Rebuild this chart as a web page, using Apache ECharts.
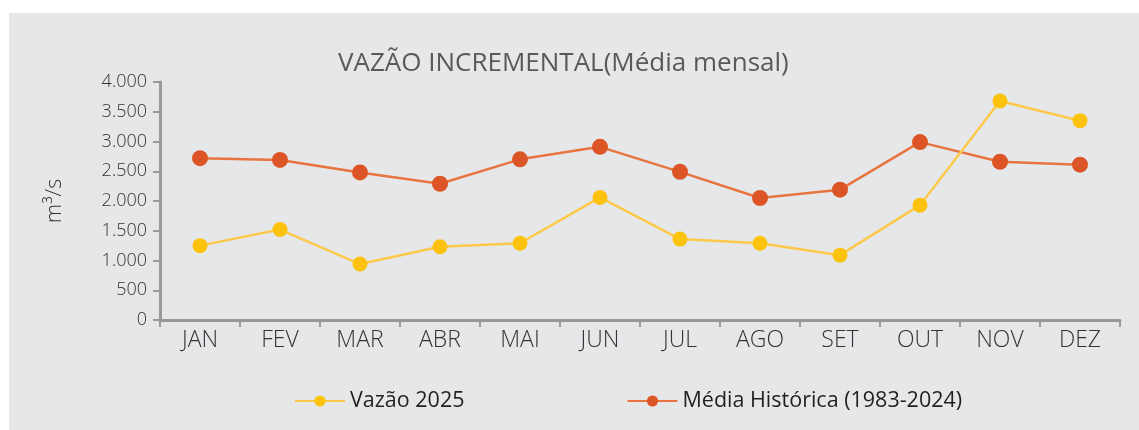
<!DOCTYPE html>
<html>
<head>
<meta charset="utf-8">
<script src="https://cdn.jsdelivr.net/npm/echarts@6/dist/echarts.min.js"></script>
<style>
html,body{margin:0;padding:0;background:#fff;}
#chart{width:1139px;height:430px;}
</style>
</head>
<body>
<div id="chart"></div>
<script>
var categories = ['JAN','FEV','MAR','ABR','MAI','JUN','JUL','AGO','SET','OUT','NOV','DEZ'];
var vazao2025 = [1250, 1520, 940, 1230, 1290, 2060, 1360, 1290, 1090, 1930, 3680, 3350];
var mediaHistorica = [2720, 2690, 2480, 2290, 2700, 2910, 2490, 2050, 2190, 2990, 2660, 2610];
var yTickLabels = ['0','500','1.000','1.500','2.000','2.500','3.000','3.500','4.000'];
var seriesNames = ['Vazão 2025','Média Histórica (1983-2024)'];
var titleText = 'VAZÃO INCREMENTAL(Média mensal)';
var yAxisName = 'm³/s';

var FONT = '"Open Sans", sans-serif';
var chart = echarts.init(document.getElementById('chart'));
chart.setOption({
  backgroundColor: '#ffffff',
  animation: false,
  graphic: [{
    type: 'rect', z: -10, silent: true,
    shape: {x: 9, y: 13, width: 1130, height: 417},
    style: {fill: '#e6e7e9'}
  }],
  title: {
    text: titleText,
    left: 333, top: 46,
    textStyle: {fontFamily: FONT, fontSize: 26, fontWeight: 'normal', color: '#58595b'}
  },
  legend: {
    left: 289, top: 385,
    itemWidth: 50, itemHeight: 14, itemGap: 162,
    textStyle: {fontFamily: FONT, fontSize: 21.5, color: '#231f20'},
    data: seriesNames
  },
  grid: {left: 160, right: 19, top: 82, bottom: 110},
  xAxis: {
    type: 'category',
    data: categories,
    boundaryGap: true,
    axisLine: {lineStyle: {color: '#98999b', width: 3}},
    axisTick: {show: true, length: 7, lineStyle: {color: '#98999b', width: 2}},
    axisLabel: {fontFamily: FONT, fontSize: 23, fontWeight: 300, color: '#333335', margin: 9}
  },
  yAxis: {
    type: 'value',
    min: 0, max: 4000, interval: 500,
    name: yAxisName,
    nameLocation: 'middle',
    nameRotate: 90,
    nameGap: 94,
    nameTextStyle: {fontFamily: FONT, fontSize: 22, fontWeight: 300, color: '#333335'},
    axisLine: {show: true, lineStyle: {color: '#98999b', width: 3}},
    axisTick: {show: true, length: 7, lineStyle: {color: '#98999b', width: 2}},
    splitLine: {show: false},
    axisLabel: {
      fontFamily: FONT, fontSize: 18, fontWeight: 300, color: '#333335', margin: 13,
      formatter: function (v) { return yTickLabels[Math.round(v / 500)]; }
    }
  },
  series: [{
    name: seriesNames[0],
    type: 'line',
    data: vazao2025,
    symbol: 'circle', symbolSize: 15,
    itemStyle: {color: '#fcc20e'},
    lineStyle: {color: '#fdc94a', width: 2.5},
    z: 3
  }, {
    name: seriesNames[1],
    type: 'line',
    data: mediaHistorica,
    symbol: 'circle', symbolSize: 16,
    itemStyle: {color: '#dc5526'},
    lineStyle: {color: '#e8743f', width: 2.5},
    z: 2
  }]
});
</script>
</body>
</html>
